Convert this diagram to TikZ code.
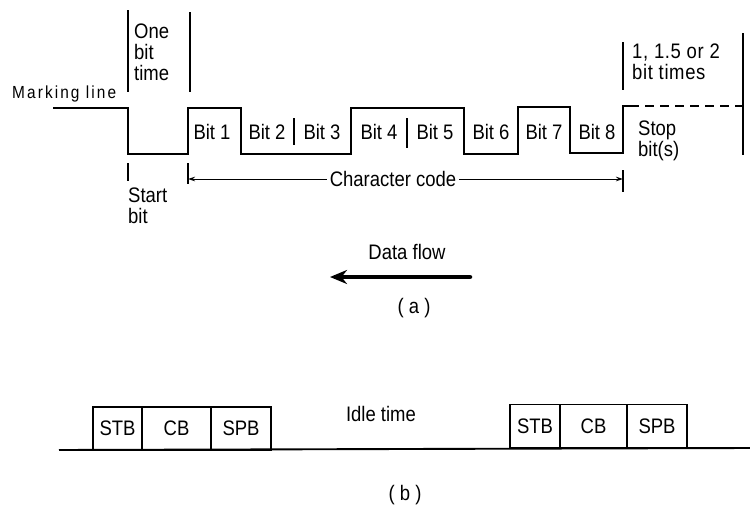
\documentclass[tikz,border=0pt]{standalone}
\usepackage{fontspec}
\setmainfont{Liberation Sans}[FakeStretch=0.88]
\usetikzlibrary{arrows.meta}
\begin{document}
\begin{tikzpicture}[x=1pt,y=-1pt,
  wave/.style={line width=1.9pt, line join=miter},
  bar/.style={line width=1.4pt},
  thinarrow/.style={line width=1pt, -{Stealth[length=7pt,width=4.5pt]}},
  lbl/.style={font=\fontsize{21}{21}\selectfont, inner sep=1pt, align=left},
  bitlbl/.style={font=\fontsize{21}{21}\selectfont, inner sep=1pt},
  cell/.style={draw, line width=1.9pt, minimum height=43pt, inner sep=0pt,
               font=\fontsize{21}{21}\selectfont, text depth=0pt}
]
\useasboundingbox (0,0) rectangle (750,506);

% ---------- (a) asynchronous character frame ----------
\node[font=\fontsize{17.5}{18}\selectfont\addfontfeature{LetterSpace=12}, inner sep=0pt, anchor=west]
  (marking) at (12,94) {Marking line};

% signal level
\draw[wave] (53,108) -- (128,108) -- (128,154) -- (188,154) -- (188,108)
  -- (241,108) -- (241,154) -- (351,154) -- (351,108) -- (464,108)
  -- (464,154) -- (518,154) -- (518,107) -- (570,107) -- (570,153)
  -- (623,153) -- (623,106) -- (630,106);
\draw[wave, dashed, dash pattern=on 9pt off 6pt] (630,106) -- (743,106);

% separators between equal-level bits
\draw[bar] (294,118) -- (294,145);
\draw[bar] (407,118) -- (407,148);

% bit labels
\node[bitlbl] (b1) at (212,132) {Bit 1};
\node[bitlbl] (b2) at (267,132) {Bit 2};
\node[bitlbl] (b3) at (322,132) {Bit 3};
\node[bitlbl] (b4) at (379,132) {Bit 4};
\node[bitlbl] (b5) at (435,132) {Bit 5};
\node[bitlbl] (b6) at (491,132) {Bit 6};
\node[bitlbl] (b7) at (544,132) {Bit 7};
\node[bitlbl] (b8) at (597,132) {Bit 8};

% one bit time markers
\draw[bar] (128,10) -- (128,92);
\draw[bar] (190,12) -- (190,92);
\node[lbl, anchor=west] (onebit) at (133,52) {One\\bit\\time};

% stop bit markers
\draw[bar] (623,42) -- (623,90);
\draw[bar] (743,33) -- (743,155);
\node[lbl, anchor=west, font=\fontsize{21}{21}\selectfont\addfontfeature{LetterSpace=3}]
  (stoptimes) at (631,62) {1, 1.5 or 2\\bit times};
\node[lbl, anchor=west] (stop) at (637,141) {Stop\\bit(s)};

% start bit
\draw[bar] (128,163) -- (128,181);
\node[lbl, anchor=west] (start) at (127,206) {Start\\bit};

% character code span
\draw[bar] (188,163) -- (188,184);
\draw[bar] (623,170) -- (623,192);
\coordinate (ccL) at (188,179);
\coordinate (ccR) at (623,179);
\node[bitlbl, fill=white, inner sep=3pt] (code) at (393,179) {Character code};
\draw[thinarrow] (code.west) -- (ccL);
\draw[thinarrow] (code.east) -- (ccR);

% data flow
\node[bitlbl] (flow) at (407,252) {Data flow};
\coordinate (dfR) at (470,277);
\coordinate (dfL) at (330,277);
\draw[line width=4.5pt, line cap=round, -{Stealth[length=17pt,width=14pt]}] (dfR) -- (dfL);
\node[bitlbl] (capa) at (414,308) {( a )};

% ---------- (b) characters separated by idle time ----------
\coordinate (lineL) at (59,450);
\coordinate (lineR) at (750,448);
\draw[wave] (lineL) -- (lineR);

\node[cell, minimum width=49pt] (stb1) at (117.5,428.5) {STB};
\node[cell, minimum width=69pt] (cb1)  at (176.5,428.5) {CB};
\node[cell, minimum width=60pt] (spb1) at (241,428.5) {SPB};

\node[cell, minimum width=50pt] (stb2) at (535,426) {STB};
\node[cell, minimum width=67pt] (cb2)  at (593.5,426) {CB};
\node[cell, minimum width=60pt] (spb2) at (657,426) {SPB};

\node[bitlbl] (idle) at (381,414) {Idle time};
\node[bitlbl] (capb) at (405,495) {( b )};
\end{tikzpicture}
\end{document}
